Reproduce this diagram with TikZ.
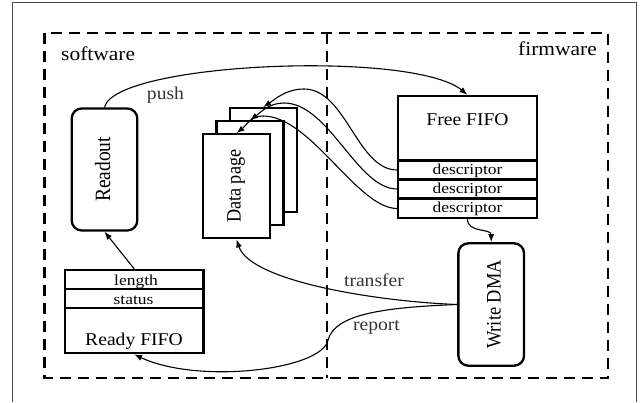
\documentclass[tikz,border=0pt]{standalone}
\usepackage{fontspec}
\setmainfont{Liberation Serif}
\usetikzlibrary{arrows.meta}
% horizontal / vertical stretch of a piece of text
\newcommand\hstr[2]{\scalebox{#1}[1]{#2}}
\newcommand\vstr[2]{\scalebox{1}[#1]{#2}}
\begin{document}
\begin{tikzpicture}[x=1pt,y=-1pt,
  box/.style={draw, line width=2.3pt, inner sep=0pt, fill=white},
  rbox/.style={box, rounded corners=10pt},
  zone/.style={line width=2.8pt, dash pattern=on 11pt off 7pt},
  conn/.style={line width=1.1pt, -{Latex[length=8pt,width=6pt]}},
  txt/.style={inner sep=0pt, anchor=base, font=\fontsize{18}{20}\selectfont},
  small/.style={inner sep=0pt, anchor=base, font=\fontsize{15.2}{17}\selectfont},
  big/.style={inner sep=0pt, font=\fontsize{19.5}{22}\selectfont},
  side/.style={txt, text=black!80},
  vert/.style={inner sep=0pt, anchor=base, rotate=90}
]
\useasboundingbox (0,0) rectangle (642,402);

% outer frame (open at the bottom)
\draw[black!70, line width=1pt] (12,402) -- (12,2.5) -- (636.5,2.5) -- (636.5,402);

% software / firmware zones
\draw[zone] (44.5,33) rectangle (608,378);
\draw[zone] (327,33) -- (327,378);

% stacked data pages
\node[box, minimum width=67, minimum height=104] (p3) at (263.2,160.3) {};
\node[box, minimum width=67, minimum height=104] (p2) at (250,173.3) {};
\node[box, minimum width=67, minimum height=104] (p1) at (236.5,186.3) {};

% software side
\node[rbox, minimum width=65.6, minimum height=122] (readout) at (104.5,169.5) {};
\node[box, minimum width=138.3, minimum height=19] (len) at (134.2,279.5) {};
\node[box, minimum width=138.3, minimum height=19.3] (stat) at (134.2,298.7) {};
\node[box, minimum width=138.3, minimum height=45] (ready) at (134.2,330.8) {};

% firmware side
\node[box, minimum width=138.4, minimum height=64.7] (free) at (467.5,128.3) {};
\node[box, minimum width=138.4, minimum height=19] (d1) at (467.5,170) {};
\node[box, minimum width=138.4, minimum height=19] (d2) at (467.5,189) {};
\node[box, minimum width=138.4, minimum height=19] (d3) at (467.5,208.5) {};
\node[rbox, minimum width=65.7, minimum height=122.4] (dma) at (491.2,304.5) {};

% connectors
\coordinate (k1) at (304,89);
\coordinate (k2) at (284,103);
\coordinate (k3) at (263,116);
\coordinate (rk) at (328,340);

\draw[conn] (readout.north) .. controls +(10,-45) and +(-55,-45) .. (free.north);
\draw[conn] (len.north) -- (readout.south);
\draw[conn] (d1.west) .. controls +(-40,0) and +(42,0) .. (k1)
  .. controls +(-18,0) and +(12,-8) .. (p3.north);
\draw[conn] (d2.west) .. controls +(-40,0) and +(45,0) .. (k2)
  .. controls +(-15,0) and +(11,-8) .. (p2.north);
\draw[conn] (d3.west) .. controls +(-40,0) and +(48,0) .. (k3)
  .. controls +(-12,0) and +(10,-8) .. (p1.north);
\draw[conn] (d3.south) .. controls +(0,14) and +(0,-14) .. (dma.north);
\draw[conn] (dma.west) .. controls +(-80,-3) and +(14,42) .. (p1.south);
\draw[conn] (dma.west) .. controls +(-78,3) and +(7,-25) .. (rk)
  .. controls +(-6,30) and +(64,30) .. (ready.south);

% texts
\node[big, anchor=base west] (sw) at (61,60.5) {\hstr{1.1}{software}};
\node[big, anchor=base east] (fw) at (597,55) {\hstr{1.1}{firmware}};

\node[vert, font=\fontsize{19.5}{22}\selectfont] (readt) at (110,169.5) {\vstr{1.12}{Readout}};
\node[vert, font=\fontsize{18.2}{20}\selectfont] (paget) at (240.5,186.3) {\vstr{1.12}{Data page}};
\node[vert, font=\fontsize{18.4}{20}\selectfont] (dmat) at (500.5,304.5) {\vstr{1.12}{Write DMA}};

\node[txt] (freet) at (467.5,125) {\hstr{1.09}{Free FIFO}};
\node[small] (dt1) at (467.5,174.3) {\hstr{1.15}{descriptor}};
\node[small] (dt2) at (467.5,193.3) {\hstr{1.15}{descriptor}};
\node[small] (dt3) at (467.5,212.5) {\hstr{1.15}{descriptor}};

\node[small] (lent) at (136,285) {\hstr{1.15}{length}};
\node[small] (statt) at (133.5,304) {\hstr{1.15}{status}};
\node[txt] (readyt) at (134,345) {\hstr{1.09}{Ready FIFO}};

\node[side] (pusht) at (165.5,99.5) {\hstr{1.09}{push}};
\node[side] (trt) at (374,286) {\hstr{1.09}{transfer}};
\node[side] (rept) at (376.5,330.5) {\hstr{1.09}{report}};
\end{tikzpicture}
\end{document}
